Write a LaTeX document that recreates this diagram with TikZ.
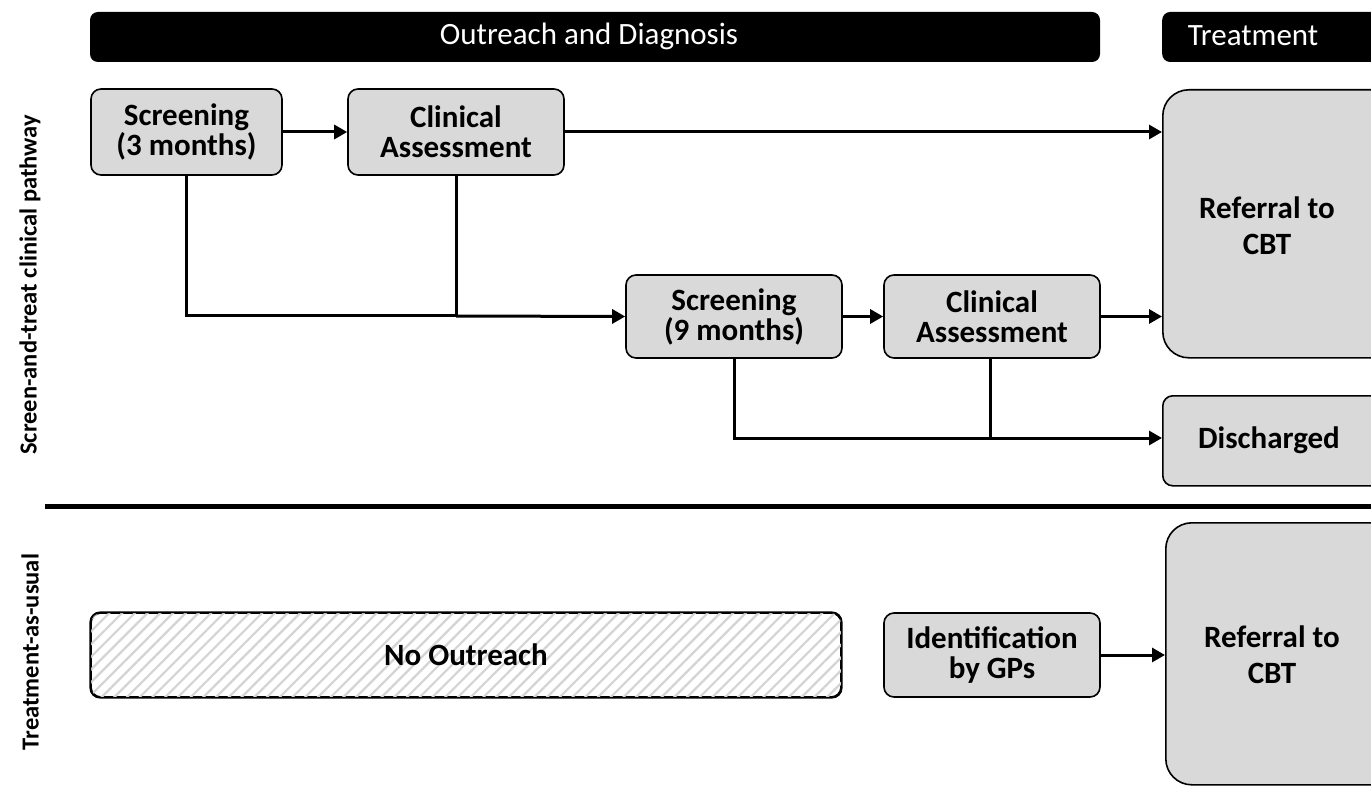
\documentclass[tikz,border=0pt]{standalone}
\usepackage{fontspec}
\setmainfont{Carlito}
\usetikzlibrary{arrows.meta,patterns.meta}
\definecolor{boxgray}{HTML}{D9D9D9}
\tikzset{
  box/.style={draw=black, line width=1.6pt, fill=boxgray, rounded corners=10pt, align=center,
    font=\fontsize{31}{30}\selectfont\bfseries, inner sep=0pt},
  bigbox/.style={box, rounded corners=26pt},
  header/.style={fill=black, rounded corners=8pt, text=white, font=\fontsize{31}{30}\selectfont, inner sep=0pt},
  boldtext/.style={font=\fontsize{31}{36}\selectfont\bfseries, align=center},
  conn/.style={line width=3pt},
  arr/.style={line width=3pt, -{Triangle[length=13pt,width=14pt]}},
  side/.style={rotate=90, font=\fontsize{24.5}{26}\selectfont\bfseries},
}
\begin{document}
\begin{tikzpicture}[x=1pt,y=-1pt]
\useasboundingbox (0,0) rectangle (1371,786);
% headers
\node[header, minimum width=1010pt, minimum height=50pt] (hOD) at (595,37) {};
\node[text=white, font=\fontsize{31}{30}\selectfont] (hODt) at (589,36) {Outreach and Diagnosis};
\node[header, minimum width=240pt, minimum height=50pt, anchor=west] (hT) at (1162,37) {};
\node[text=white, font=\fontsize{31}{30}\selectfont] (hTt) at (1253,36) {Treatment};
% top pathway
\node[box, minimum width=191pt, minimum height=86pt] (s1) at (186.5,132) {Screening\\(3 months)};
\node[box, minimum width=216pt, minimum height=86pt] (c1) at (456,132) {Clinical\\Assessment};
\node[bigbox, minimum width=240pt, minimum height=268pt, anchor=north west] (r1) at (1162,89) {};
\node[boldtext] (r1t) at (1267,226) {Referral to\\CBT};
\node[box, minimum width=216pt, minimum height=83pt] (s2) at (734,316.5) {Screening\\(9 months)};
\node[box, minimum width=216pt, minimum height=83pt] (c2) at (992,316.5) {Clinical\\Assessment};
\node[box, minimum width=240pt, minimum height=90pt, anchor=north west] (dis) at (1162,395) {};
\node[boldtext] (dist) at (1269,440) {Discharged};
% connectors top
\draw[arr] (s1.east) -- (c1.west);
\draw[arr] (c1.east) -- (r1.west |- c1.east);
\coordinate (j1) at (456,316);
\draw[conn] (s1.south) |- (j1);
\draw[conn] (c1.south) -- (j1);
\draw[arr] (j1) -- (s2.west);
\draw[arr] (s2.east) -- (c2.west);
\draw[arr] (c2.east) -- (r1.west |- c2.east);
\coordinate (j2) at (990,438);
\draw[conn] (s2.south) |- (j2);
\draw[conn] (c2.south -| j2) -- (j2);
\draw[arr] (j2) -- (dis.west |- j2);
% divider
\coordinate (dv1) at (45,506);
\coordinate (dv2) at (1371,506);
\draw[line width=5pt] (dv1) -- (dv2);
% bottom pathway
\node[draw=black, line width=1.6pt, fill=white, rounded corners=10pt, minimum width=750pt, minimum height=84pt,
  postaction={pattern={Lines[angle=45,distance=9pt,line width=2.2pt]}, pattern color=black!17}] (no) at (466,655) {};
\draw[line width=1.6pt, rounded corners=10pt] (no.north west) rectangle (no.south east);
\node[boldtext] (not) at (466,655) {No Outreach};
\node[box, minimum width=216pt, minimum height=84pt] (id) at (992,655) {Identification\\by GPs};
\node[bigbox, minimum width=240pt, minimum height=262pt, anchor=north west] (r2) at (1165,522) {};
\node[boldtext] (r2t) at (1272,655) {Referral to\\CBT};
\draw[arr] (id.east) -- (r2.west |- id.east);
% side labels
\node[side] (lab1) at (30,285) {Screen-and-treat clinical pathway};
\node[side] (lab2) at (30,652) {Treatment-as-usual};
\end{tikzpicture}
\end{document}
